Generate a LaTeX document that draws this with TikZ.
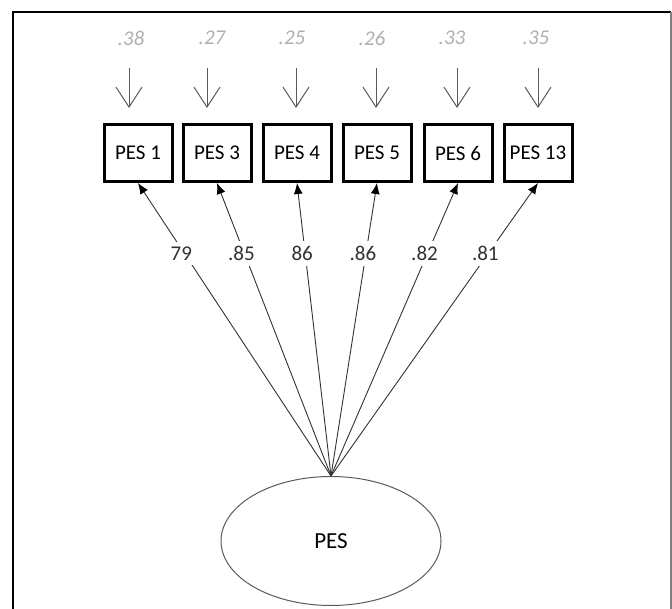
\documentclass[tikz,border=0pt]{standalone}
\usepackage{fontspec}
\setmainfont{Carlito}
\usetikzlibrary{positioning, shapes.geometric, arrows.meta}
\definecolor{ErrorGray}{RGB}{176, 176, 176}
\definecolor{ArrowGray}{RGB}{90, 90, 90}
\definecolor{PathGray}{RGB}{50, 50, 50}

\begin{document}
\begin{tikzpicture}[x=1pt, y=-1pt,
    item/.style={draw, line width=3pt, minimum width=68pt, minimum height=57pt, inner sep=1pt, font=\fontsize{21}{24}\selectfont},
    latent/.style={draw=ArrowGray, ellipse, line width=1pt, minimum width=220pt, minimum height=129pt, font=\fontsize{23}{26}\selectfont},
    errlabel/.style={ErrorGray, font=\fontsize{21}{24}\selectfont\itshape},
    errarrow/.style={ArrowGray, line width=1pt, -{Straight Barb[length=20pt, width=26pt]}},
    loading/.style={PathGray, line width=0.9pt, -{Latex[black, length=11pt, width=9pt]}},
    weight/.style={fill=white, inner sep=5pt, font=\fontsize{21}{24}\selectfont}]
    \useasboundingbox (0,0) rectangle (672,609);

    % Frame
    \draw[line width=1.5pt] (13,609) -- (13,12) -- (671,12);
    \draw[gray, line width=2pt] (671,12) -- (671,609);

    % Indicators
    \foreach \n/\x in {1/138, 3/217, 4/297, 5/377, 6/458, 13/538}
      \node[item] (pes\n) at (\x,153) {PES \n};

    % Latent factor
    \node[latent] (lv) at (331,541) {PES};

    % Error terms
    \foreach \n/\x/\lx/\e in {1/129/131/.38, 3/207/212/.27, 4/296/292/.25, 5/376/372/.26, 6/457/452/.33, 13/538/536/.35} {
      \node[errlabel] (e\n) at (\lx,38) {\e};
      \coordinate (t\n) at (\x,68);
      \draw[errarrow, shorten >=15pt] (t\n) -- (t\n |- pes\n.north);
    }

    % Loadings
    \foreach \n/\w in {1/79, 3/.85, 4/86, 5/.86, 6/.82, 13/.81}
      \draw[loading] (lv.north) -- (pes\n.south) node[weight, pos=0.76, xshift=-3pt] {\w};
\end{tikzpicture}
\end{document}
